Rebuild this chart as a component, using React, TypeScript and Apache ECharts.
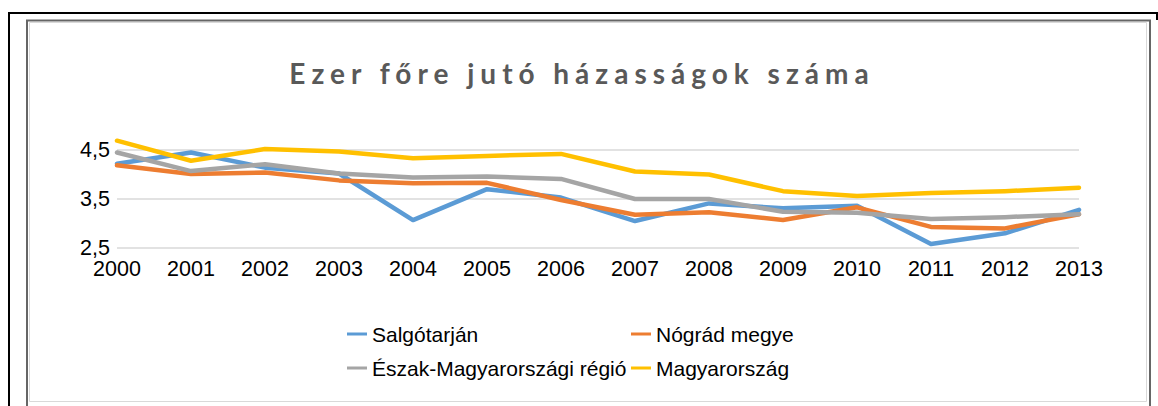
import React, { useEffect, useRef } from "react";
import * as echarts from "echarts";

const years = ["2000", "2001", "2002", "2003", "2004", "2005", "2006", "2007", "2008", "2009", "2010", "2011", "2012", "2013"];
const salgotarjan = [4.22, 4.45, 4.14, 4.02, 3.07, 3.7, 3.53, 3.05, 3.41, 3.31, 3.36, 2.58, 2.8, 3.28];
const nograd = [4.19, 4.01, 4.04, 3.88, 3.82, 3.83, 3.48, 3.18, 3.23, 3.07, 3.33, 2.93, 2.9, 3.19];
const eszak = [4.45, 4.07, 4.21, 4.02, 3.94, 3.96, 3.91, 3.5, 3.5, 3.24, 3.22, 3.09, 3.13, 3.19];
const magyar = [4.69, 4.28, 4.52, 4.47, 4.33, 4.38, 4.42, 4.06, 4.0, 3.66, 3.56, 3.62, 3.66, 3.73];
const seriesNames = ["Salgótarján", "Nógrád megye", "Észak-Magyarországi régió", "Magyarország"];
const colors = ["#5B9BD5", "#ED7D31", "#A5A5A5", "#FFC000"];
const titleText = "Ezer főre jutó házasságok száma";
const yMin = 2.5;
const yMax = 4.5;
const yStep = 1;

export default function App() {
  const ref = useRef<HTMLDivElement>(null);
  useEffect(() => {
    if (!ref.current) return;
    const chart = echarts.init(ref.current, null, { renderer: "svg" });
    const data = [salgotarjan, nograd, eszak, magyar];
    const legendText = { fontFamily: "Liberation Sans", fontSize: 21, color: "#000", lineHeight: 22 };
    chart.setOption({
      animation: false,
      backgroundColor: "#fff",
      graphic: [
        { type: "polyline", shape: { points: [[9, 406], [9, 13], [1157, 13], [1157, 20]] }, style: { stroke: "#000", lineWidth: 2, fill: "none" } },
        { type: "polyline", shape: { points: [[27, 406], [27, 20.5], [1150, 20.5], [1150, 406]] }, style: { stroke: "#666", lineWidth: 2, fill: "none" } },
        { type: "rect", shape: { x: 29.5, y: 22.5, width: 1117, height: 379 }, style: { stroke: "#d9d9d9", lineWidth: 1, fill: "none" } },
        {
          type: "text",
          x: 582,
          y: 73,
          style: {
            text: titleText,
            font: "bold 28px Lato",
            fill: "#595959",
            textAlign: "center",
            textVerticalAlign: "middle",
          },
        },
      ],
      grid: { left: 117, right: 79, top: 150, bottom: 158, containLabel: false },
      xAxis: {
        type: "category",
        data: years,
        boundaryGap: false,
        axisLine: { show: false },
        axisTick: { show: false },
        axisLabel: { interval: 0, margin: 10, fontFamily: "Liberation Sans", fontSize: 21.5, color: "#000" },
        splitLine: { show: false },
      },
      yAxis: {
        type: "value",
        min: yMin,
        max: yMax,
        interval: yStep,
        axisLine: { show: false },
        axisTick: { show: false },
        axisLabel: {
          margin: 7,
          fontFamily: "Liberation Sans",
          fontSize: 21.5,
          color: "#000",
          formatter: (v: number) => String(v).replace(".", ","),
        },
        splitLine: { lineStyle: { color: "#d9d9d9", width: 1.5 } },
      },
      legend: [
        {
          orient: "vertical",
          left: 347,
          top: 323,
          padding: 0,
          itemWidth: 20,
          itemHeight: 3,
          itemGap: 12,
          icon: "rect",
          data: [seriesNames[0], seriesNames[2]],
          textStyle: legendText,
        },
        {
          orient: "vertical",
          left: 631,
          top: 323,
          padding: 0,
          itemWidth: 20,
          itemHeight: 3,
          itemGap: 12,
          icon: "rect",
          data: [seriesNames[1], seriesNames[3]],
          textStyle: legendText,
        },
      ],
      series: seriesNames.map((name, i) => ({
        name,
        type: "line",
        data: data[i],
        symbol: "none",
        smooth: false,
        clip: false,
        color: colors[i],
        lineStyle: { color: colors[i], width: 4.5, join: "round", cap: "round" },
      })),
    });
    return () => chart.dispose();
  }, []);
  return (
    <>
      <style>{'text[style*="Lato"]{letter-spacing:6px}'}</style>
      <div ref={ref} style={{ position: "absolute", left: 0, top: 0, width: 1158, height: 406 }} />
    </>
  );
}
